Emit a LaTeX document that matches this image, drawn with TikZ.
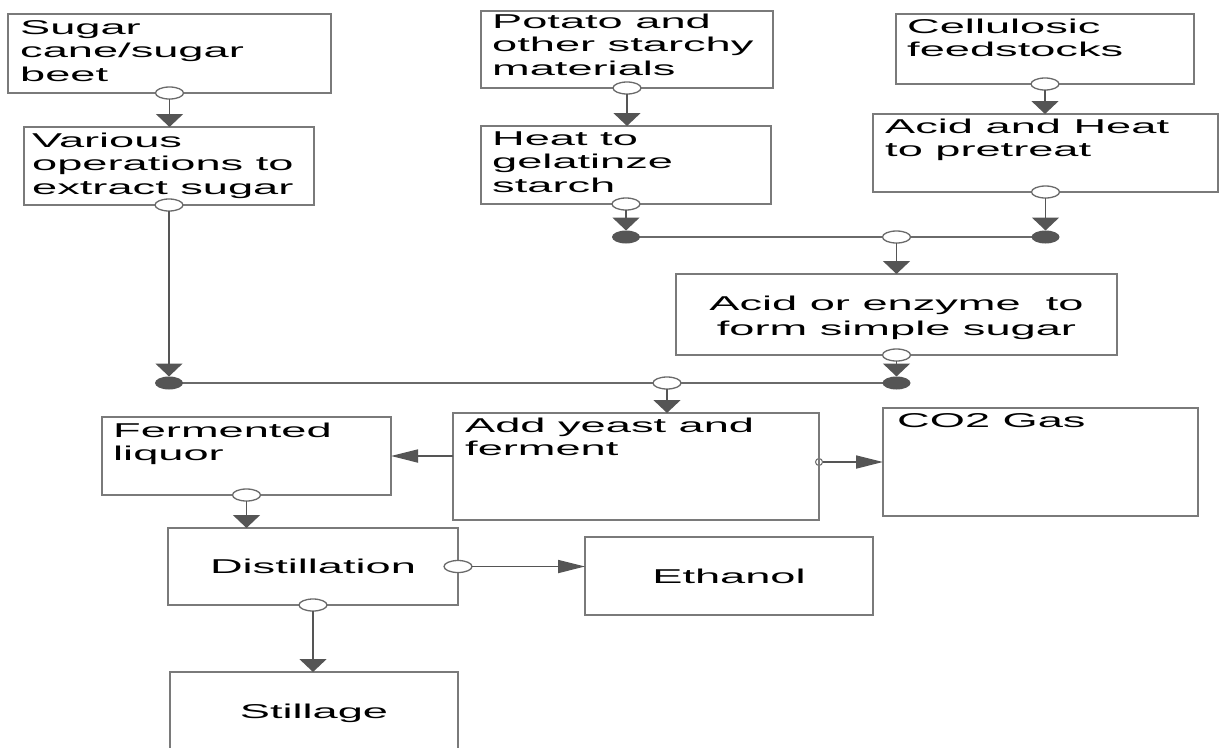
\documentclass[tikz,border=0pt]{standalone}
\usepackage{fontspec}
\newfontfamily\diagfont{Liberation Sans}[FakeStretch=2.26]
\usetikzlibrary{arrows.meta,shapes.geometric}
\definecolor{boxgray}{HTML}{7A7A7A}
\definecolor{linegray}{HTML}{6A6A6A}
\definecolor{darkgray}{HTML}{555555}
\begin{document}
\begin{tikzpicture}[x=1pt,y=-1pt,
  box/.style={draw=boxgray, line width=1.8pt, inner sep=0pt, outer sep=0pt, anchor=north west, fill=white},
  lbl/.style={font=\diagfont\fontsize{20}{23.5}\selectfont, inner sep=0pt, align=left, anchor=base west, text=black},
  ctr/.style={font=\diagfont\fontsize{20}{25}\selectfont, inner sep=0pt, align=center, anchor=base, text=black},
  conn/.style={draw=linegray, line width=1.8pt},
  vtip/.style={conn, -{Triangle[length=13pt,width=27pt]}, darkgray},
  htip/.style={conn, -{Triangle[length=27pt,width=13pt]}, darkgray},
  odot/.style={ellipse, draw=linegray, line width=1.3pt, fill=white, minimum width=28pt, minimum height=12pt, inner sep=0pt, outer sep=0pt},
  fdot/.style={ellipse, fill=darkgray, minimum width=28pt, minimum height=13pt, inner sep=0pt, outer sep=0pt},
  sdot/.style={circle, draw=linegray, line width=1pt, fill=white, minimum size=7pt, inner sep=0pt, outer sep=0pt}
]
\useasboundingbox (0,0) rectangle (1220,747);
\clip (0,0) rectangle (1220,747);
\fill[white] (0,0) rectangle (1220,747);

% boxes
\node[box, minimum width=323pt, minimum height=79pt] (b1) at (8,14) {};
\node[box, minimum width=290pt, minimum height=78pt] (b2) at (24,127) {};
\node[box, minimum width=292pt, minimum height=77pt] (b3) at (481,11) {};
\node[box, minimum width=290pt, minimum height=78pt] (b4) at (481,126) {};
\node[box, minimum width=298pt, minimum height=70pt] (b5) at (896,14) {};
\node[box, minimum width=345pt, minimum height=78pt] (b6) at (873,114) {};
\node[box, minimum width=441pt, minimum height=81pt] (b7) at (676,274) {};
\node[box, minimum width=366pt, minimum height=107pt] (b8) at (453,413) {};
\node[box, minimum width=289pt, minimum height=78pt] (b9) at (102,417) {};
\node[box, minimum width=315pt, minimum height=108pt] (b10) at (883,408) {};
\node[box, minimum width=290pt, minimum height=77pt] (b11) at (168,528) {};
\node[box, minimum width=288pt, minimum height=78pt] (b12) at (585,537) {};
\node[box, minimum width=288pt, minimum height=100pt] (b13) at (170,672) {};

% texts (base anchor = baseline of the last line)
\node[lbl] (t1) at ([xshift=12pt,yshift=-67pt]b1.north west) {Sugar\\cane/sugar\\beet};
\node[lbl] (t2) at ([xshift=8pt,yshift=-67pt]b2.north west) {Various\\operations to\\extract sugar};
\node[lbl] (t3) at ([xshift=11pt,yshift=-64pt]b3.north west) {Potato and\\other starchy\\materials};
\node[lbl] (t4) at ([xshift=11pt,yshift=-66pt]b4.north west) {Heat to\\gelatinze\\starch};
\node[lbl] (t5) at ([xshift=11pt,yshift=-42.5pt]b5.north west) {Cellulosic\\feedstocks};
\node[lbl] (t6) at ([xshift=12pt,yshift=-42.5pt]b6.north west) {Acid and Heat\\to pretreat};
\node[ctr] (t7) at ([yshift=-61pt]b7.north) {Acid or enzyme\ \ to\\form simple sugar};
\node[lbl] (t8) at ([xshift=12pt,yshift=-42.5pt]b8.north west) {Add yeast and\\ferment};
\node[lbl] (t9) at ([xshift=11pt,yshift=-43.5pt]b9.north west) {Fermented\\liquor};
\node[lbl] (t10) at ([xshift=14pt,yshift=-19pt]b10.north west) {CO2 Gas};
\node[ctr] (t11) at ([yshift=-45pt]b11.north) {Distillation};
\node[ctr] (t12) at ([yshift=-46pt]b12.north) {Ethanol};
\node[ctr] (t13) at ([yshift=-46pt]b13.north) {Stillage};

% junction positions
\coordinate (y1) at (0,383);
\coordinate (y2) at (0,237);
\coordinate (j1) at (b2.south |- y1);
\coordinate (j2) at (b4.south |- y2);
\coordinate (j3) at (b6.south |- y2);
\coordinate (j4) at (b7.south |- y1);
\coordinate (h1) at (b7.north |- y2);
\coordinate (h2) at (667,383);

% horizontal collector lines
\draw[conn] (j2) -- (j3);
\draw[conn] (j1) -- (j4);

% dots
\node[fdot] (J1) at (j1) {};
\node[fdot] (J2) at (j2) {};
\node[fdot] (J3) at (j3) {};
\node[fdot] (J4) at (j4) {};
\node[odot] (oh1) at (h1) {};
\node[odot] (oh2) at (h2) {};
\node[odot] (o1) at (b1.south) {};
\node[odot] (o2) at (b2.south) {};
\node[odot] (o3) at (b3.south) {};
\node[odot] (o4) at (b4.south) {};
\node[odot] (o5) at (b5.south) {};
\node[odot] (o6) at (b6.south) {};
\node[odot] (o7) at (b7.south) {};
\node[odot] (o9) at (b9.south) {};
\node[odot] (o11e) at (b11.east) {};
\node[odot] (o11s) at (b11.south) {};
\node[sdot] (o8) at (b8.east |- b10.west) {};
\draw[draw=boxgray, line width=1.8pt] (b8.north east) -- (b8.south east);

% connectors
\draw[vtip] (o1.south) -- (o1 |- b2.north);
\draw[vtip] (o2.south) -- (J1.north);
\draw[vtip] (o3.south) -- (o3 |- b4.north);
\draw[vtip] (o4.south) -- (J2.north);
\draw[vtip] (o5.south) -- (o5 |- b6.north);
\draw[vtip] (o6.south) -- (J3.north);
\draw[vtip] (oh1.south) -- (oh1 |- b7.north);
\draw[vtip] (o7.south) -- (J4.north);
\draw[vtip] (oh2.south) -- (oh2 |- b8.north);
\draw[htip] (b8.west |- b9.east) -- (b9.east);
\draw[htip] (o8.east) -- (b10.west);
\draw[vtip] (o9.south) -- (o9 |- b11.north);
\draw[htip] (o11e.east) -- (o11e -| b12.west);
\draw[vtip] (o11s.south) -- (o11s |- b13.north);
\end{tikzpicture}
\end{document}
